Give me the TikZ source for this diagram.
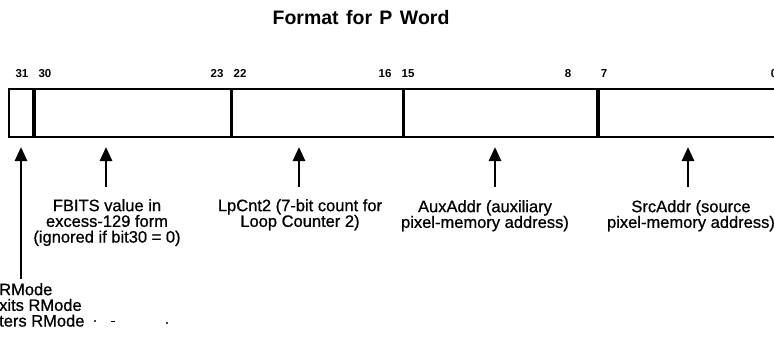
\documentclass[tikz,border=0pt]{standalone}
\usepackage{fontspec}
\setmainfont{Liberation Sans}
\newfontfamily\scanfont[FakeBold=0.8]{Liberation Sans}
\usetikzlibrary{arrows.meta}

\begin{document}
\begin{tikzpicture}[
        x=1pt, y=-1pt,
        field/.style={draw, line width=1.8pt, minimum height=48pt, inner sep=0pt, anchor=north west},
        bitno/.style={font=\fontsize{11.5}{13}\selectfont\bfseries, anchor=base, inner sep=0pt},
        pointer/.style={-{Triangle[length=14pt, width=12pt]}, line width=2.8pt},
        desc/.style={font=\fontsize{16.5}{15.7}\selectfont\scanfont, align=center, anchor=north, inner sep=0pt}
    ]
    \useasboundingbox (0,0) rectangle (774,338);
    \clip (0,0) rectangle (774,338);

    % Title
    \node[font=\fontsize{19.5}{22}\selectfont\bfseries, anchor=base] (title) at (361,24)
        {Format\hspace{2pt} for\hspace{2pt} P\hspace{2pt} Word};

    % Fields of the word
    \node[field, minimum width=24pt] (b31) at (8,88) {};
    \node[field, minimum width=196pt] (b30) at (b31.north east) {};
    \node[field, minimum width=170pt] (b22) at (b30.north east) {};
    \node[field, minimum width=193pt] (b15) at (b22.north east) {};
    \node[field, minimum width=194pt] (b7) at (b15.north east) {};

    % Bit numbers
    \foreach \n/\px in {31/22, 30/45, 23/217, 22/240, 16/385, 15/408, 8/568, 7/604, 0/774}
        \node[bitno] (n\n) at (\px,77) {\n};

    % Pointers up to the fields
    \coordinate (rm-tail) at (21,279);
    \coordinate (rm-head) at (21,147);
    \draw[pointer] (rm-tail) -- (rm-head);
    \foreach \nm/\px in {fb/106, lp/299, aux/495, src/688} {
        \coordinate (\nm-tail) at (\px,187);
        \coordinate (\nm-head) at (\px,147);
        \draw[pointer] (\nm-tail) -- (\nm-head);
    }

    % Descriptions
    \node[desc] (fb) at (107,199) {FBITS value in\\excess-129 form\\(ignored if bit30 = 0)};
    \node[desc] (lp) at (300,199) {LpCnt2 (7-bit count for\\Loop Counter 2)};
    \node[desc] (aux) at (485,200) {AuxAddr (auxiliary\\pixel-memory address)};
    \node[desc] (src) at (691,200) {SrcAddr (source\\pixel-memory address)};
    \node[desc, align=left, anchor=north west] (rm) at (-1,283) {RMode\\xits RMode\\ters RMode};

    % Specks
    \fill (95,321) circle (1.2);
    \draw[line width=1pt] (111,321) -- (115,321);
    \fill (167,323) circle (1.2);

\end{tikzpicture}
\end{document}
